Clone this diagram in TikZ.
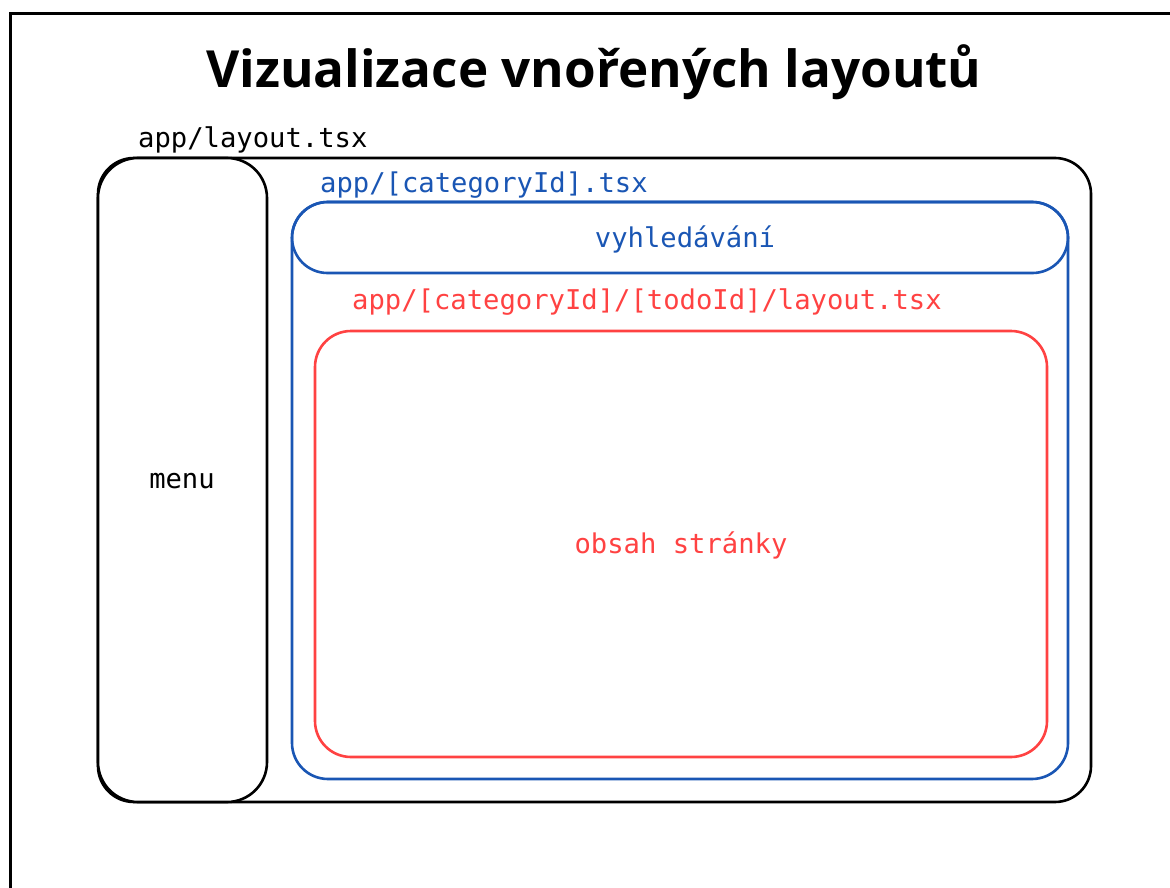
\documentclass[tikz,border=0pt]{standalone}
\usepackage{fontspec}
\setmainfont{Open Sans}
\setmonofont{DejaVu Sans Mono}
\definecolor{bblue}{RGB}{26,86,180}
\definecolor{rred}{RGB}{255,66,66}
\tikzset{
  lbl/.style={font=\fontsize{27.2}{30}\selectfont\ttfamily, inner sep=0pt, anchor=base},
  boxline/.style={line width=2.6pt, rounded corners=36pt},
}
\begin{document}
\begin{tikzpicture}[x=1pt,y=-1pt]
\useasboundingbox (0,0) rectangle (1170,888);
\fill[white] (0,0) rectangle (1170,888);
\begin{scope}
\clip (0,0) rectangle (1170,888);
\draw[line width=3pt] (10,14) rectangle (1200,920);
\end{scope}
\node[font=\fontsize{51.2}{60}\selectfont\bfseries, inner sep=0pt, anchor=base] (title) at (594,88) {Vizualizace vnořených layoutů};
% outer layout
\draw[boxline, black] (98,158) rectangle (1091,802);
\node[lbl, anchor=base west] (lroot) at (138,147) {app/layout.tsx};
\draw[boxline, black, fill=white, rounded corners=40pt] (98,158) rectangle (267,802);
\node[lbl] (menu) at (182,488) {menu};
% category layout
\draw[boxline, bblue] (292,202) rectangle (1068,779);
\node[lbl, anchor=base west, text=bblue] (lcat) at (320,193) {app/[categoryId].tsx};
\draw[boxline, bblue, rounded corners=35.5pt] (292,202) rectangle (1068,273);
\node[lbl, text=bblue] (search) at (685,247) {vyhledávání};
% todo layout
\node[lbl, anchor=base west, text=rred] (ltodo) at (352,309) {app/[categoryId]/[todoId]/layout.tsx};
\draw[boxline, rred] (315,331) rectangle (1047,757);
\node[lbl, text=rred] (content) at (681,553) {obsah stránky};
\end{tikzpicture}
\end{document}
